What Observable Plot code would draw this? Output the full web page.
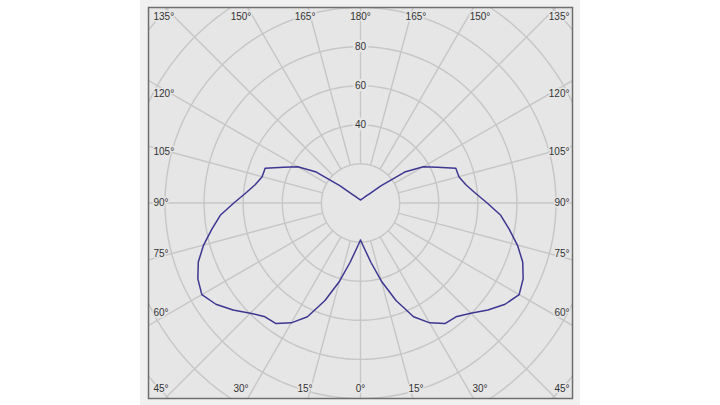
<!DOCTYPE html>
<html>
<head>
<meta charset="utf-8">
<script src="https://cdn.jsdelivr.net/npm/d3@7"></script>
<script src="https://cdn.jsdelivr.net/npm/@observablehq/plot@0.6"></script>
<style>
  html, body { margin: 0; padding: 0; background: #ffffff; }
  #chart { width: 720px; height: 405px; }
</style>
</head>
<body>
<div id="chart"></div>
<script>
// ---- data ----
const angles = [0,5,10,15,20,25,30,35,40,45,50,55,60,65,70,75,80,85,90,
                95,100,105,110,115,120,125,130,135,140,145,150,155,160,165,170,175,180];
const intensity = [18.9,23.5,30.9,41.4,53.1,64.2,70.8,75.3,76.0,79.7,85.1,90.3,93.7,91.8,88.3,83.1,77.2,72.0,64.8,
                   58.9,54.6,52.1,51.9,43.2,37.1,27.6,13.6,7.0,4.7,3.6,2.9,2.5,2.2,1.9,1.8,1.6,1.5];
const ringValues = [20,40,60,80,100,120,140];
const ringLabels = [40,60,80];
const angleTicks = [0,15,30,45,60,75,90,105,120,135,150,165,180];
const spokeStep = 15;

// ---- layout ----
const W = 720, H = 405, mL = 148, mR = 148, mT = 7, mB = 7;
const yHalf = 100;
const pxPerUnit = (H - mT - mB) / (2 * yHalf);
const xHalf = (W - mL - mR) / 2 / pxPerUnit;
const u = px => px / pxPerUnit;
const rad = a => a * Math.PI / 180;
// polar (angle from downward vertical, side=+1 right / -1 left) -> cartesian
const pol = (a, v, side) => ({x: side * v * Math.sin(rad(a)), y: -v * Math.cos(rad(a))});

// curve: right half 0..180 then left half 180..0
const curve = [];
angles.forEach((a, i) => curve.push(pol(a, intensity[i], 1)));
for (let i = angles.length - 1; i >= 0; i--) curve.push(pol(angles[i], intensity[i], -1));

// rings
const ringPts = [];
ringValues.forEach(r => {
  for (let t = 0; t <= 360; t += 2) ringPts.push({r, x: r * Math.sin(rad(t)), y: r * Math.cos(rad(t))});
});
// spokes
const spokes = d3.range(0, 360, spokeStep).map(t => ({
  x1: ringValues[0] * Math.sin(rad(t)), y1: ringValues[0] * Math.cos(rad(t)),
  x2: 220 * Math.sin(rad(t)), y2: 220 * Math.cos(rad(t))
}));

// angle labels around the frame
const rowY = u(186), rowK = u(207), colK = u(190);
const leftX = u(153 - 360), rightX = u(569 - 360);
const labStart = [], labEnd = [], labMid = [];
angleTicks.forEach(a => {
  const sides = (a === 0 || a === 180) ? [1] : [-1, 1];
  sides.forEach(side => {
    const text = a + "°";
    if (a >= 45 && a <= 135) {
      let y = -colK / Math.tan(rad(a));
      if (a === 45) y = -rowY;
      if (a === 135) y = rowY;
      if (a === 90) y = 0;
      if (side < 0) labStart.push({x: leftX, y, text});
      else labEnd.push({x: rightX, y, text});
    } else {
      const y = a < 90 ? -rowY : rowY;
      const x = (a === 0 || a === 180) ? 0 : side * rowK * Math.abs(Math.tan(rad(a)));
      labMid.push({x, y, text});
    }
  });
});

const bg = "#e6e6e6";
const txt = {fill: "#333333", fontSize: 10, fontFamily: "'Liberation Sans', Arial, sans-serif"};

const chart = Plot.plot({
  width: W, height: H,
  marginLeft: mL, marginRight: mR, marginTop: mT, marginBottom: mB,
  x: {domain: [-xHalf, xHalf], axis: null},
  y: {domain: [-yHalf, yHalf], axis: null},
  style: "background: linear-gradient(to right, #ffffff 140px, #f0f0f0 140px, #f0f0f0 580px, #ffffff 580px); font-family: 'Liberation Sans', Arial, sans-serif;",
  marks: [
    Plot.frame({fill: bg}),
    Plot.line(ringPts, {x: "x", y: "y", z: "r", stroke: "#c6c6c6", strokeWidth: 1.4, clip: true}),
    Plot.link(spokes, {x1: "x1", y1: "y1", x2: "x2", y2: "y2", stroke: "#c6c6c6", strokeWidth: 1.4, clip: true}),
    Plot.text(ringLabels.map(r => ({x: 0, y: r, text: String(r)})),
      {x: "x", y: "y", text: "text", ...txt, stroke: bg, strokeWidth: 5}),
    Plot.line(curve, {x: "x", y: "y", stroke: "#3d3791", strokeWidth: 1.5, curve: "linear"}),
    Plot.text(labStart, {x: "x", y: "y", text: "text", textAnchor: "start", ...txt, stroke: bg, strokeWidth: 3}),
    Plot.text(labEnd, {x: "x", y: "y", text: "text", textAnchor: "end", ...txt, stroke: bg, strokeWidth: 3}),
    Plot.text(labMid, {x: "x", y: "y", text: "text", textAnchor: "middle", ...txt, stroke: bg, strokeWidth: 3}),
    Plot.frame({stroke: "#6e6e6e", strokeWidth: 1.5})
  ]
});
document.getElementById("chart").appendChild(chart);
</script>
</body>
</html>
